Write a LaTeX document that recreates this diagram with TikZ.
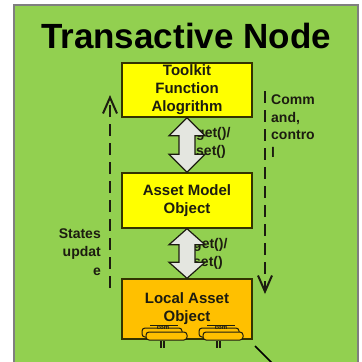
\documentclass[tikz,border=0pt]{standalone}
\usepackage{fontspec}
\setmainfont{Liberation Sans}
\usetikzlibrary{arrows.meta,calc}
\definecolor{panelgreen}{HTML}{92D050}
\definecolor{panelframe}{HTML}{7F7F7F}
\definecolor{boxyellow}{HTML}{FFFF00}
\definecolor{boxorange}{HTML}{FFC000}
\definecolor{boxline}{HTML}{333300}
\definecolor{arrowfill}{HTML}{E4E6E0}
\definecolor{inkdark}{HTML}{1C1C10}
\tikzset{
  objbox/.style={draw=boxline, line width=1.4pt, minimum width=130pt, inner sep=0pt,
    align=center, text=inkdark, font=\bfseries\fontsize{15}{18}\selectfont},
  blockarrow/.style={draw=inkdark, line width=1.2pt, fill=arrowfill, line join=miter},
  flowline/.style={draw=inkdark, line width=2pt, dash pattern=on 12pt off 7pt,
    -{Straight Barb[length=16pt,width=14pt]}},
  sidelabel/.style={inner sep=0pt, text=inkdark, font=\bfseries\fontsize{14}{18.5}\selectfont},
  portbox/.style={draw=inkdark, line width=1pt, fill=boxorange, rounded corners=3pt},
  porttext/.style={inner sep=0pt, text=inkdark, font=\bfseries\fontsize{6}{6}\selectfont}
}
\begin{document}
\begin{tikzpicture}[x=1pt,y=-1pt]
\useasboundingbox (0,0) rectangle (362,362);
\clip (0,0) rectangle (362,362);
% node panel
\draw[fill=panelgreen, draw=panelframe, line width=1.5pt] (14,5) rectangle (358,380);
\node[inner sep=0pt, font=\bfseries\fontsize{35}{40}\selectfont] (title) at (186,36) {Transactive Node};

% stacked objects
\node[objbox, fill=boxyellow, minimum height=54pt] (tk) at (187,90) {Toolkit\\Function\\Alogrithm};
\node[objbox, fill=boxyellow, minimum height=55pt] (am) at (187,200.5) {Asset Model\\Object};
\node[objbox, fill=boxorange, minimum height=60pt] (la) at (187,309) {Local Asset\\Object};

% get/set labels sit under the block arrows
\node[sidelabel, anchor=west, align=left] (gs1) at (196,143) {get()/\\set()};
\node[sidelabel, anchor=west, align=left] (gs2) at (193,254) {get()/\\set()};

% block double arrows between the objects
\draw[blockarrow] (tk.south) -- ++(18,18) -- ++(-10,0) -- ($(am.north)+(8,-18)$) -- ++(10,0)
  -- (am.north) -- ++(-18,-18) -- ++(10,0) -- ($(tk.south)+(-8,18)$) -- ++(-10,0) -- cycle;
\draw[blockarrow] (am.south) -- ++(18,16) -- ++(-10,0) -- ($(la.north)+(8,-16)$) -- ++(10,0)
  -- (la.north) -- ++(-18,-16) -- ++(10,0) -- ($(am.south)+(-8,16)$) -- ++(-10,0) -- cycle;

% state update and command/control flows
\coordinate (upfrom) at (110,288);
\coordinate (upto) at (110,95);
\coordinate (downfrom) at (265,91);
\coordinate (downto) at (265,294);
\draw[flowline] (upfrom) -- (upto);
\draw[flowline] (downfrom) -- (downto);
\node[sidelabel, anchor=east, align=right] (states) at (101,252) {States\\updat\\e};
\node[sidelabel, anchor=west, align=left, font=\bfseries\fontsize{14}{17.7}\selectfont] (cmd) at (271,126) {Comm\\and,\\contro\\l};

% ports on the local asset object
\draw[portbox] (142,328) rectangle (182,337);
\draw[portbox] (146,332) rectangle (187,340);
\draw[portbox] (199,328) rectangle (239,337);
\draw[portbox] (203,332) rectangle (243,340);
\node[porttext] (p1) at (163,328) {com};
\node[porttext] (p2) at (221,328) {com};
\draw[inkdark, line width=0.8pt] (150,325) -- (178,325);
\draw[inkdark, line width=0.8pt] (207,325) -- (235,325);
\draw[inkdark, line width=1.2pt] (161,341) -- (161,348) (164,341) -- (164,348);
\draw[inkdark, line width=1.2pt] (217,341) -- (217,348) (220,341) -- (220,348);

% outgoing link
\coordinate (linkstart) at (255,346);
\coordinate (linkend) at (275,366);
\draw[black, line width=1.6pt] (linkstart) -- (linkend);
\end{tikzpicture}
\end{document}
